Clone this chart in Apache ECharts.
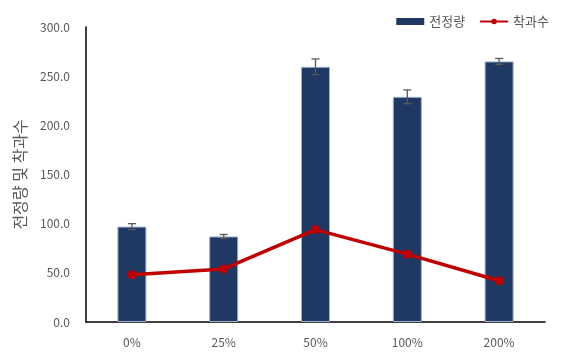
<!DOCTYPE html>
<html><head><meta charset="utf-8">
<script src="https://cdn.jsdelivr.net/npm/echarts@6/dist/echarts.min.js"></script>
<style>html,body{margin:0;padding:0;background:#fff}#c{width:562px;height:354px}</style>
</head><body><div id="c"></div>
<script>
const categories = ['0%', '25%', '50%', '100%', '200%'];
const pruning = [97, 87, 259.5, 229, 265];
const pruningErr = [3, 2, 8, 7, 3];
const fruitCount = [48, 54, 94, 69, 42];
const yTicks = [0, 50, 100, 150, 200, 250, 300];

const chart = echarts.init(document.getElementById('c'));
const font = '"Noto Sans CJK KR", "Noto Sans", sans-serif';
chart.setOption({
  animation: false,
  textStyle: { fontFamily: font },
  grid: { left: 86, right: 17, top: 27, bottom: 32 },
  legend: {
    top: 10, right: 8, itemWidth: 28, itemHeight: 7, itemGap: 14,
    textStyle: { color: '#595959', fontSize: 13, fontFamily: font },
    data: [{ name: '전정량', icon: 'rect', itemStyle: { borderWidth: 0 } }, '착과수']
  },
  xAxis: {
    type: 'category', data: categories,
    axisLine: { lineStyle: { color: '#000', width: 1.5 } },
    axisTick: { show: false },
    axisLabel: { color: '#595959', fontSize: 12, margin: 14, fontFamily: font }
  },
  yAxis: {
    type: 'value', min: yTicks[0], max: yTicks[yTicks.length - 1], interval: 50,
    name: '전정량 및 착과수', nameLocation: 'middle', nameGap: 58, nameRotate: 90,
    nameTextStyle: { color: '#595959', fontSize: 16, fontFamily: font },
    axisLine: { show: true, lineStyle: { color: '#000', width: 1.5 } },
    axisTick: { show: false },
    splitLine: { show: false },
    axisLabel: { color: '#595959', fontSize: 12, margin: 16, fontFamily: font,
      formatter: v => v.toFixed(1) }
  },
  series: [
    {
      name: '전정량', type: 'bar', data: pruning, barWidth: 29,
      itemStyle: { color: '#203864', borderColor: '#9fb0cc', borderWidth: 1 }
    },
    {
      name: 'err', type: 'custom', z: 5,
      data: categories.map((c, i) => [i, pruning[i] - pruningErr[i], pruning[i] + pruningErr[i]]),
      renderItem: function (params, api) {
        const lo = api.coord([api.value(0), api.value(1)]);
        const hi = api.coord([api.value(0), api.value(2)]);
        const w = 4;
        const st = { stroke: '#595959', lineWidth: 1.3 };
        return { type: 'group', children: [
          { type: 'line', shape: { x1: lo[0], y1: lo[1], x2: hi[0], y2: hi[1] }, style: st },
          { type: 'line', shape: { x1: lo[0] - w, y1: lo[1], x2: lo[0] + w, y2: lo[1] }, style: st },
          { type: 'line', shape: { x1: hi[0] - w, y1: hi[1], x2: hi[0] + w, y2: hi[1] }, style: st }
        ]};
      },
      silent: true
    },
    {
      name: '착과수', type: 'line', data: fruitCount, z: 10,
      symbol: 'circle', symbolSize: 9,
      lineStyle: { color: '#C00000', width: 3.5 },
      itemStyle: { color: '#C00000' }
    }
  ]
});
</script></body></html>
